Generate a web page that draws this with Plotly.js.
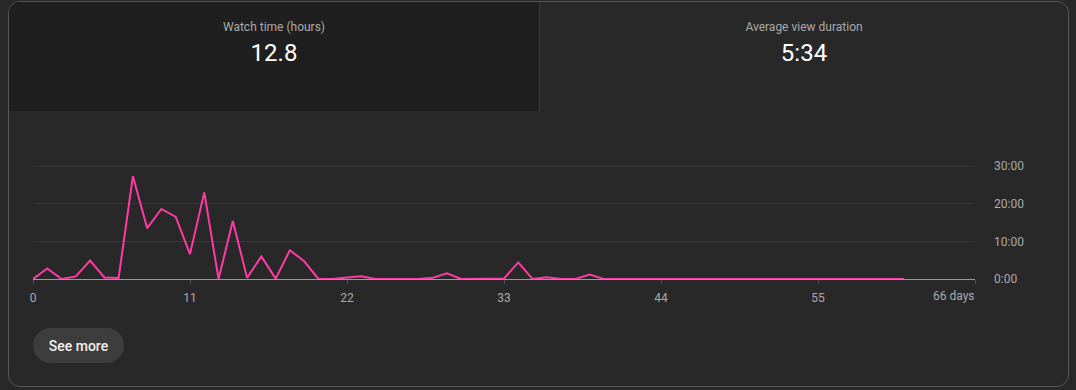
<!DOCTYPE html>
<html>
<head>
<meta charset="utf-8">
<script src="https://cdn.plot.ly/plotly-3.0.1.min.js"></script>
<style>
  html, body { margin:0; padding:0; width:1076px; height:390px; background:#282828; overflow:hidden; font-family:Roboto, "Noto Sans", sans-serif; }
  #card { position:absolute; left:8px; top:1px; width:1059px; height:384px; border:1px solid #555; border-radius:12px; background:#282828; overflow:hidden; }
  #tileL { position:absolute; left:0; top:0; width:530px; height:109px; background:#1f1f1f; border-right:1px solid #3a3a3a; }
  .lbl { position:absolute; transform:translate(-50%,-50%); white-space:nowrap; }
  .cap { font-size:12px; color:#aaaaaa; }
  .val { font-size:24px; color:#ffffff; }
  #btn { position:absolute; left:33px; top:328px; width:91px; height:35px; border-radius:18px; background:#3d3d3d; color:#f1f1f1; font-size:14px; font-weight:500; display:flex; align-items:center; justify-content:center; }
  #chart { position:absolute; left:0; top:0; width:1076px; height:390px; }
</style>
</head>
<body>
<div id="card"><div id="tileL"></div></div>
<div class="lbl cap" style="left:274px; top:27px;">Watch time (hours)</div>
<div class="lbl val" style="left:274px; top:53px;">12.8</div>
<div class="lbl cap" style="left:804px; top:27px;">Average view duration</div>
<div class="lbl val" style="left:804px; top:53px;">5:34</div>
<div id="btn">See more</div>
<div id="chart"></div>
<script>
// Day index since publish
const days = [];
for (let i = 0; i <= 61; i++) days.push(i);
// Average view duration per day, in seconds
const durationSec = [
  0, 168, 0, 42, 294, 24, 16, 1638, 810, 1116,
  990, 396, 1380, 0, 924, 18, 360, 6, 459, 282,
  0, 0, 24, 42, 0, 0, 9, 0, 18, 90,
  0, 0, 0, 6, 264, 0, 27, 0, 0, 72,
  0, 0, 0, 0, 0, 0, 0, 0, 0, 0,
  0, 0, 0, 0, 0, 3, 0, 0, 0, 0,
  0, 0
];
const xTickVals = [0, 11, 22, 33, 44, 55, 66];
const xTickText = ['0', '11', '22', '33', '44', '55', ''];
const xEndLabel = '66 days';
const yTickVals = [0, 600, 1200, 1800];
const yTickText = ['0:00', '10:00', '20:00', '30:00'];

const trace = {
  x: days, y: durationSec, type: 'scatter', mode: 'lines',
  line: { color: '#ff3aa6', width: 2 }, hoverinfo: 'skip'
};

const layout = {
  width: 1076, height: 390,
  margin: { l: 33, r: 101, t: 164, b: 111 },
  paper_bgcolor: 'rgba(0,0,0,0)', plot_bgcolor: 'rgba(0,0,0,0)',
  font: { family: 'Roboto, sans-serif', size: 12, color: '#aaaaaa' },
  showlegend: false,
  xaxis: {
    range: [0, 66], tickvals: xTickVals, ticktext: xTickText,
    showgrid: false, zeroline: false,
    showline: true, linecolor: '#9a9a9a', linewidth: 1,
    ticks: 'outside', ticklen: 4, tickcolor: '#505050', tickwidth: 1,
    ticklabelstandoff: 4, fixedrange: true
  },
  yaxis: {
    range: [0, 1832], side: 'right', tickvals: yTickVals, ticktext: yTickText,
    showgrid: true, gridcolor: '#383838', gridwidth: 1,
    zeroline: false, showline: false, ticks: '', ticklabelstandoff: 18,
    fixedrange: true
  },
  annotations: [{
    x: 66, y: 0, xref: 'x', yref: 'y', text: xEndLabel, showarrow: false,
    xanchor: 'right', yanchor: 'top', yshift: -8, xshift: 2,
    font: { family: 'Roboto, sans-serif', size: 12, color: '#aaaaaa' }
  }]
};

Plotly.newPlot('chart', [trace], layout, { displayModeBar: false, staticPlot: true });
</script>
</body>
</html>
